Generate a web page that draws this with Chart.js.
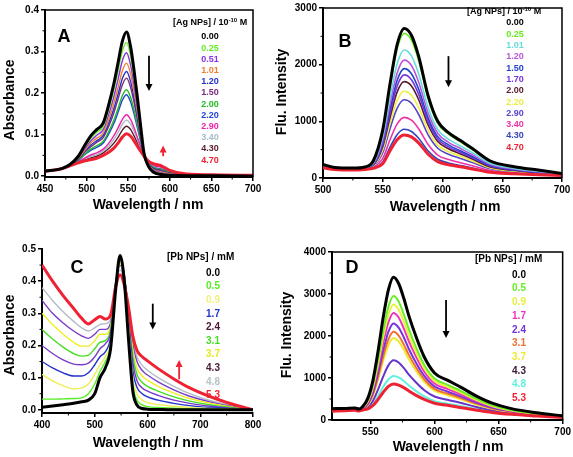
<!DOCTYPE html>
<html>
<head>
<meta charset="utf-8">
<script src="https://cdn.jsdelivr.net/npm/chart.js@4.4.0/dist/chart.umd.min.js"></script>
<style>
  html, body { margin: 0; padding: 0; background: #fff; }
  body { width: 573px; height: 457px; position: relative; overflow: hidden; }
  canvas { position: absolute; }
</style>
</head>
<body>
<canvas id="pa" width="272" height="225" style="left:0px;top:0px"></canvas>
<canvas id="pb" width="301" height="225" style="left:272px;top:0px"></canvas>
<canvas id="pc" width="272" height="232" style="left:0px;top:225px"></canvas>
<canvas id="pd" width="301" height="232" style="left:272px;top:225px"></canvas>
<script>
// ---- panel A : absorbance vs Ag NPs ----
const aWave = [450,470,480,490,498,505,512,520,527,533,538,543,548,553,557,561,565,569,574,580,590,600,620,660,700];
const aConc = ['0.00','0.25','0.51','1.01','1.20','1.50','2.00','2.20','2.90','3.40','4.30','4.70'];
const aColors = ['#000000','#66ee22','#8833dd','#f08030','#2233cc','#7a2a7a','#22bb22','#2244dd','#ee22aa','#a8bcc8','#5a1a2a','#ee2233'];
const aAbs = [
  [.012,.018,.028,.048,.075,.097,.112,.128,.175,.225,.275,.325,.347,.310,.255,.190,.120,.055,.025,.010,.004,.002,.001,.001,0],
  [.012,.018,.028,.046,.071,.091,.105,.120,.163,.209,.255,.301,.322,.288,.238,.178,.114,.054,.026,.012,.006,.003,.001,.001,0],
  [.012,.018,.027,.045,.067,.085,.098,.112,.151,.193,.235,.278,.297,.266,.220,.166,.108,.054,.027,.014,.008,.004,.002,.001,.001],
  [.012,.018,.027,.043,.063,.080,.091,.104,.139,.177,.215,.254,.272,.245,.203,.154,.102,.053,.029,.016,.010,.006,.002,.002,.001],
  [.012,.018,.027,.042,.060,.075,.085,.098,.130,.164,.199,.235,.252,.227,.189,.144,.097,.052,.030,.018,.012,.007,.003,.002,.001],
  [.012,.018,.027,.041,.058,.071,.081,.093,.122,.154,.187,.220,.236,.213,.178,.137,.093,.052,.030,.019,.014,.007,.003,.002,.001],
  [.012,.018,.026,.039,.053,.065,.073,.084,.109,.136,.164,.194,.208,.189,.159,.123,.086,.051,.032,.021,.016,.009,.003,.002,.001],
  [.012,.018,.026,.038,.052,.062,.069,.080,.103,.128,.155,.183,.196,.178,.150,.117,.083,.051,.032,.022,.017,.009,.003,.002,.001],
  [.012,.018,.026,.035,.044,.051,.056,.065,.080,.098,.117,.137,.148,.136,.117,.094,.071,.049,.035,.026,.021,.012,.004,.003,.002],
  [.012,.018,.025,.034,.042,.048,.052,.061,.074,.089,.106,.125,.135,.125,.108,.088,.068,.049,.035,.027,.022,.012,.004,.003,.002],
  [.012,.018,.025,.033,.040,.044,.048,.056,.067,.080,.094,.111,.120,.112,.097,.081,.064,.048,.036,.029,.023,.013,.005,.003,.002],
  [.012,.018,.025,.032,.037,.040,.043,.050,.058,.068,.080,.094,.102,.096,.085,.072,.060,.048,.037,.030,.025,.014,.005,.003,.002]
];
const aTicksX = [450,500,550,600,650,700];
const aTicksY = [0,0.1,0.2,0.3,0.4];

// ---- panel B : fluorescence vs Ag NPs ----
const bWave = [500,510,525,535,542,550,556,562,568,574,580,588,596,605,615,625,640,660,680,700];
const bConc = ['0.00','0.25','1.01','1.20','1.50','1.70','2.00','2.20','2.90','3.40','4.30','4.70'];
const bColors = ['#000000','#66ee22','#66dddd','#bb55dd','#2244cc','#7733dd','#5a1a2a','#eeee44','#5544cc','#ee33aa','#3344bb','#ee2233'];
const bFlu = [
  [240,185,175,195,300,850,1650,2350,2640,2520,2150,1450,1000,800,660,520,300,200,140,80],
  [235,182,172,190,290,820,1595,2270,2550,2435,2075,1400,965,775,640,500,290,195,135,78],
  [230,180,170,186,265,730,1410,2010,2260,2155,1840,1240,855,685,565,445,260,170,120,70],
  [226,178,168,183,250,670,1300,1850,2080,1985,1695,1145,790,630,520,410,240,160,112,65],
  [222,175,165,180,240,620,1205,1720,1930,1840,1570,1060,730,585,480,380,220,148,104,60],
  [218,172,163,177,230,585,1135,1620,1820,1735,1480,1000,690,550,455,360,210,140,98,58],
  [214,170,160,175,225,550,1060,1515,1700,1625,1385,935,645,515,425,335,195,132,92,55],
  [208,166,157,170,215,495,955,1365,1530,1460,1245,840,580,465,385,300,178,120,85,52],
  [202,162,154,166,205,445,865,1230,1380,1320,1125,760,525,420,345,275,162,110,78,50],
  [195,158,150,162,190,345,670,950,1070,1020,870,590,405,325,270,215,130,92,68,46],
  [188,154,146,158,180,280,540,765,860,820,700,475,330,265,220,175,110,80,60,44],
  [180,150,140,152,170,250,475,675,760,725,620,420,290,235,200,160,100,75,56,42]
];
const bTicksX = [500,550,600,650,700];
const bTicksY = [0,1000,2000,3000];

// ---- panel C : absorbance vs Pb NPs ----
const cWave = [400,420,440,460,475,488,500,510,520,530,540,548,556,564,572,580,590,600,620,650,680,720,760,800];
const cConc = ['0.0','0.5','0.9','1.7','2.4','3.1','3.7','4.3','4.8','5.3'];
const cColors = ['#000000','#55ee22','#eeee55','#2233cc','#7a3acc','#44dd22','#eeee22','#7a3acc','#b4bcc4','#ee2233'];
const cLegColors = ['#000000','#55ee22','#f0f080','#2233cc','#4a1838','#44dd22','#e8e822','#4a1838','#b4c4c8','#ee2233'];
const cAbs = [
  [.008,.012,.016,.020,.025,.030,.050,.100,.130,.190,.380,.480,.400,.220,.060,.015,.004,.002,.001,0,0,0,0,0],
  [.033,.033,.034,.035,.037,.050,.080,.120,.150,.200,.390,.480,.410,.240,.080,.030,.015,.010,.007,.005,.003,.002,.001,0],
  [.110,.090,.075,.065,.068,.080,.110,.140,.165,.210,.390,.475,.415,.260,.100,.050,.030,.022,.016,.011,.007,.004,.002,0],
  [.150,.130,.115,.105,.105,.115,.140,.165,.180,.225,.390,.470,.420,.275,.125,.070,.050,.040,.030,.020,.013,.007,.003,0],
  [.200,.175,.155,.142,.140,.145,.165,.190,.205,.240,.395,.465,.420,.290,.150,.090,.068,.058,.045,.030,.020,.011,.005,0],
  [.250,.220,.195,.175,.167,.170,.190,.210,.215,.250,.400,.460,.418,.300,.170,.110,.085,.073,.058,.040,.027,.015,.007,0],
  [.300,.265,.235,.210,.198,.198,.215,.235,.235,.260,.400,.455,.413,.310,.190,.130,.105,.092,.073,.052,.035,.020,.009,0],
  [.340,.300,.270,.245,.230,.222,.235,.250,.250,.270,.400,.450,.408,.315,.205,.150,.122,.108,.087,.062,.042,.024,.011,0],
  [.380,.340,.305,.275,.255,.245,.255,.265,.268,.280,.390,.435,.398,.315,.215,.165,.138,.123,.100,.073,.050,.028,.013,0],
  [.450,.400,.355,.315,.285,.267,.280,.290,.282,.295,.385,.420,.388,.320,.230,.185,.165,.152,.128,.096,.068,.040,.018,0]
];
const cTicksX = [400,500,600,700,800];
const cTicksY = [0,0.1,0.2,0.3,0.4,0.5];

// ---- panel D : fluorescence vs Pb NPs ----
const dWave = [520,530,538,541,544,548,552,556,560,564,568,572,576,580,586,592,600,610,620,632,645,660,680,700];
const dConc = ['0.0','0.5','0.9','1.7','2.4','3.1','3.7','4.3','4.8','5.3'];
const dColors = ['#000000','#66ee22','#e8f040','#ee33bb','#7733dd','#f07030','#f0e830','#6633cc','#60f0e0','#ee2233'];
const dLegColors = ['#000000','#66ee22','#e8f040','#ee33bb','#7733dd','#f07030','#f0e830','#3a1838','#60f0e0','#ee2233'];
const dFlu = [
  [270,275,285,262,320,520,950,1650,2450,3100,3400,3250,2900,2480,1950,1500,1120,950,790,580,400,270,170,100],
  [265,270,280,257,310,470,840,1440,2130,2690,2950,2820,2520,2160,1700,1310,990,840,700,515,355,240,150,90],
  [260,265,275,254,300,445,785,1345,1985,2510,2750,2630,2350,2010,1590,1230,930,790,660,485,335,228,145,88],
  [255,262,272,251,295,420,730,1250,1840,2325,2550,2440,2180,1870,1480,1150,870,740,620,455,318,218,140,85],
  [250,258,268,248,285,390,665,1130,1660,2100,2300,2200,1970,1690,1340,1050,800,680,570,420,295,205,132,82],
  [245,255,265,245,280,370,615,1035,1520,1920,2100,2010,1800,1550,1230,970,740,630,530,395,280,195,127,80],
  [240,250,260,240,275,355,580,965,1410,1780,1950,1870,1680,1445,1150,910,700,595,500,375,268,188,123,78],
  [230,240,250,232,260,310,460,730,1040,1300,1420,1370,1240,1080,880,710,560,480,410,315,230,165,110,72],
  [220,230,240,224,250,280,380,570,790,965,1050,1015,930,820,680,560,450,390,335,265,200,145,100,65],
  [210,220,230,214,240,265,345,490,660,800,860,830,770,690,580,490,400,350,300,240,180,135,95,60]
];
const dTicksX = [550,600,650,700];
const dTicksY = [0,1000,2000,3000,4000];

const FAM = '"Liberation Sans", Arial, sans-serif';

// frame, titles, panel letter, legend and arrows
const panelPlugin = {
  id: 'panel',
  afterDraw(chart, args, o) {
    const ctx = chart.ctx, a = chart.chartArea;
    const xs = chart.scales.x, ys = chart.scales.y;
    ctx.save();
    ctx.strokeStyle = '#000';
    if (o.frame) {
      ctx.lineWidth = 1.5;
      ctx.beginPath();
      ctx.moveTo(a.left, a.top); ctx.lineTo(a.right, a.top); ctx.lineTo(a.right, a.bottom);
      ctx.stroke();
    }
    // minor ticks
    ctx.lineWidth = 1;
    (o.minorX || []).forEach(v => {
      const p = xs.getPixelForValue(v);
      ctx.beginPath(); ctx.moveTo(p, a.bottom); ctx.lineTo(p, a.bottom + 2.5); ctx.stroke();
    });
    (o.minorY || []).forEach(v => {
      const p = ys.getPixelForValue(v);
      ctx.beginPath(); ctx.moveTo(a.left, p); ctx.lineTo(a.left - 2.5, p); ctx.stroke();
    });
    // axis titles
    ctx.fillStyle = '#000';
    ctx.font = 'bold 14px ' + FAM;
    ctx.textAlign = 'center';
    ctx.textBaseline = 'middle';
    ctx.fillText(o.xTitle, o.xtPos[0], o.xtPos[1]);
    ctx.save();
    ctx.translate(o.ytPos[0], o.ytPos[1]);
    ctx.rotate(-Math.PI / 2);
    ctx.fillText(o.yTitle, 0, 0);
    ctx.restore();
    // panel letter
    ctx.font = 'bold 18px ' + FAM;
    ctx.fillText(o.letter, o.letPos[0], o.letPos[1]);
    // legend header
    ctx.textAlign = 'left';
    ctx.font = 'bold ' + o.headSize + 'px ' + FAM;
    let hx = o.headPos[0];
    ctx.fillText(o.head[0], hx, o.headPos[1]);
    hx += ctx.measureText(o.head[0]).width;
    if (o.head[1]) {
      ctx.font = 'bold ' + (o.headSize - 3) + 'px ' + FAM;
      ctx.fillText(o.head[1], hx, o.headPos[1] - 3);
      hx += ctx.measureText(o.head[1]).width;
      ctx.font = 'bold ' + o.headSize + 'px ' + FAM;
      ctx.fillText(o.head[2], hx, o.headPos[1]);
    }
    // legend entries
    ctx.textAlign = 'center';
    ctx.font = 'bold ' + o.legSize + 'px ' + FAM;
    o.labels.forEach((t, i) => {
      ctx.fillStyle = o.legColors[i];
      ctx.fillText(t, o.legPos[0], o.legPos[1] + i * o.legStep);
    });
    // arrows (in data units)
    o.arrows.forEach(ar => {
      const px = xs.getPixelForValue(ar.x);
      const p0 = ys.getPixelForValue(ar.y0), p1 = ys.getPixelForValue(ar.y1);
      const dir = p1 > p0 ? 1 : -1;
      ctx.strokeStyle = ar.color; ctx.fillStyle = ar.color;
      ctx.lineWidth = 1.8;
      ctx.beginPath(); ctx.moveTo(px, p0); ctx.lineTo(px, p1 - dir * 5); ctx.stroke();
      ctx.beginPath();
      ctx.moveTo(px, p1); ctx.lineTo(px - 3.5, p1 - dir * 7); ctx.lineTo(px + 3.5, p1 - dir * 7);
      ctx.closePath(); ctx.fill();
    });
    ctx.restore();
  }
};

function makePanel(id, p) {
  const n = p.series.length;
  const datasets = p.series.map((vals, i) => ({
    label: p.labels[i],
    data: p.wave.map((w, j) => ({ x: w, y: vals[j] })),
    borderColor: p.colors[i],
    borderWidth: (i === 0 || i === n - 1) ? 3 : p.lw,
    pointRadius: 0,
    cubicInterpolationMode: 'monotone',
    order: (i === 0 || i === n - 1) ? 0 : 1,
    fill: false
  }));
  const tickFont = { family: FAM, size: 10, weight: 'bold' };
  return new Chart(document.getElementById(id), {
    type: 'line',
    data: { datasets },
    plugins: [panelPlugin],
    options: {
      responsive: false,
      animation: false,
      devicePixelRatio: 1,
      layout: { padding: p.pad },
      plugins: { legend: { display: false }, tooltip: { enabled: false }, panel: p.deco },
      scales: {
        x: {
          type: 'linear', min: p.xMin, max: p.xMax,
          afterBuildTicks: s => { s.ticks = p.xTicks.map(v => ({ value: v })); },
          afterFit: s => { s.height = p.xHeight; },
          ticks: { font: tickFont, color: '#000', padding: 2, autoSkip: false, maxRotation: 0, callback: v => String(v) },
          grid: { drawOnChartArea: false, drawTicks: true, tickLength: 4, color: '#000', lineWidth: 1.5 },
          border: { display: true, width: 2, color: '#000' }
        },
        y: {
          type: 'linear', min: p.yMin, max: p.yMax,
          afterBuildTicks: s => { s.ticks = p.yTicks.map(v => ({ value: v })); },
          afterFit: s => { s.width = p.yWidth; },
          ticks: { font: tickFont, color: '#000', padding: 2, autoSkip: false, callback: p.yFmt },
          grid: { drawOnChartArea: false, drawTicks: true, tickLength: 4, color: '#000', lineWidth: 1.5 },
          border: { display: true, width: 2, color: '#000' }
        }
      }
    }
  });
}

const fmt1 = v => v.toFixed(1);
const fmt0 = v => String(v);

makePanel('pa', {
  wave: aWave, series: aAbs, labels: aConc, colors: aColors, lw: 1.4,
  xMin: 450, xMax: 700, yMin: -0.002, yMax: 0.4, xTicks: aTicksX, yTicks: aTicksY, yFmt: fmt1,
  yWidth: 45, xHeight: 48, pad: { left: 0, right: 19, top: 10, bottom: 0 },
  deco: {
    frame: true, minorX: [475,525,575,625,675], minorY: [0.05,0.15,0.25,0.35],
    xTitle: 'Wavelength / nm', xtPos: [148, 205], yTitle: 'Absorbance', ytPos: [10, 100],
    letter: 'A', letPos: [64, 37],
    head: ['[Ag NPs] / 10', '-10', ' M'], headSize: 9, headPos: [173, 23],
    labels: aConc, legColors: aColors, legSize: 9, legPos: [210, 37], legStep: 11.2,
    arrows: [{ x: 575, y0: 0.29, y1: 0.205, color: '#000' }, { x: 592, y0: 0.048, y1: 0.074, color: '#ee2233' }]
  }
});

makePanel('pb', {
  wave: bWave, series: bFlu, labels: bConc, colors: bColors, lw: 1.6,
  xMin: 500, xMax: 700, yMin: 0, yMax: 3000, xTicks: bTicksX, yTicks: bTicksY, yFmt: fmt0,
  yWidth: 51, xHeight: 47, pad: { left: 0, right: 11, top: 6, bottom: 0 },
  deco: {
    frame: true, minorX: [525,575,625,675], minorY: [500,1500,2500],
    xTitle: 'Wavelength / nm', xtPos: [173, 207], yTitle: 'Flu. Intensity', ytPos: [10, 92],
    letter: 'B', letPos: [73, 42],
    head: ['[Ag NPs] / 10', '-10', ' M'], headSize: 9, headPos: [195, 12],
    labels: bConc, legColors: bColors, legSize: 9, legPos: [243, 23], legStep: 11.3,
    arrows: [{ x: 605, y0: 2150, y1: 1600, color: '#000' }]
  }
});

makePanel('pc', {
  wave: cWave, series: cAbs, labels: cConc, colors: cColors, lw: 1.4,
  xMin: 400, xMax: 800, yMin: -0.01, yMax: 0.5, xTicks: cTicksX, yTicks: cTicksY, yFmt: fmt1,
  yWidth: 42, xHeight: 44, pad: { left: 0, right: 19, top: 24, bottom: 0 },
  deco: {
    frame: false, minorX: [450,550,650,750], minorY: [0.05,0.15,0.25,0.35,0.45],
    xTitle: 'Wavelength / nm', xtPos: [148, 218], yTitle: 'Absorbance', ytPos: [10, 110],
    letter: 'C', letPos: [77, 43],
    head: ['[Pb NPs] / mM'], headSize: 10, headPos: [167, 32],
    labels: cConc, legColors: cLegColors, legSize: 10, legPos: [213, 48], legStep: 13.6,
    arrows: [{ x: 610, y0: 0.33, y1: 0.25, color: '#000' }, { x: 660, y0: 0.095, y1: 0.155, color: '#ee2233' }]
  }
});

makePanel('pd', {
  wave: dWave, series: dFlu, labels: dConc, colors: dColors, lw: 2,
  xMin: 520, xMax: 700, yMin: 0, yMax: 4000, xTicks: dTicksX, yTicks: dTicksY, yFmt: fmt0,
  yWidth: 60, xHeight: 37, pad: { left: 0, right: 10, top: 27, bottom: 0 },
  deco: {
    frame: true, minorX: [575,625,675], minorY: [500,1500,2500,3500],
    xTitle: 'Wavelength / nm', xtPos: [176, 222], yTitle: 'Flu. Intensity', ytPos: [15, 110],
    letter: 'D', letPos: [80, 43],
    head: ['[Pb NPs] / mM'], headSize: 10, headPos: [203, 34],
    labels: dConc, legColors: dLegColors, legSize: 10, legPos: [247, 50], legStep: 13.7,
    arrows: [{ x: 609, y0: 2860, y1: 1950, color: '#000' }]
  }
});
</script>
</body>
</html>
